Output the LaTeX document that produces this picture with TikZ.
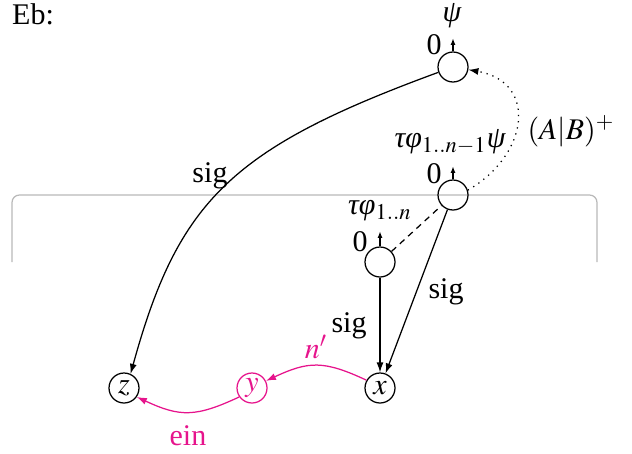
\documentclass[tikz,border=0pt]{standalone}
\usepackage{mathptmx}
\usepackage{fontspec}
\setmainfont{Liberation Serif}
\usetikzlibrary{arrows.meta}
\definecolor{mag}{RGB}{230,20,140}
\definecolor{boxgray}{RGB}{185,185,185}
\newcommand{\gk}[1]{\mbox{\itshape #1}}
\begin{document}
\begin{tikzpicture}[x=0.4pt,y=0.4pt,
  every node/.style={font=\fontsize{12}{14}\selectfont},
  st/.style={circle,draw,minimum size=12pt,inner sep=0pt,line width=0.5pt},
  lbl/.style={inner sep=0pt},
  arr/.style={-{Latex[length=4pt,width=2.8pt]},line width=0.5pt},
  uparr/.style={-{Latex[length=2.6pt,width=2pt]},line width=0.5pt},
  magarr/.style={-{Latex[length=4pt,width=2.8pt]},draw=mag,line width=0.5pt}]
\useasboundingbox (0,0) rectangle (632,-453);
% gray box
\draw[boxgray,line width=0.5pt,rounded corners=3pt] (12,-262) -- (12,-195) -- (597,-195) -- (597,-262);
% states
\node[st] (top) at (453,-67) {};
\node[st] (mid) at (453,-195) {};
\node[st] (low) at (380,-262) {};
\node[st] (X) at (380,-388) {$x$};
\node[st,draw=mag,text=mag] (Y) at (252,-388) {$y$};
\node[st] (Z) at (124,-388) {$z$};
% labels
\node[lbl] (eb) at (33,-14) {Eb:};
\node[lbl] (psi) at (452,-16) {\gk{ψ}};
\node[lbl] (z1) at (434,-45) {0};
\node[lbl] (tp1) at (450,-142) {\gk{τφ}$_{1..n-1}$\gk{ψ}};
\node[lbl] (z2) at (434,-174) {0};
\node[lbl] (tp2) at (380,-211) {\gk{τφ}$_{1..n}$};
\node[lbl] (z3) at (360,-242) {0};
\node[lbl] (ab) at (571,-131) {$(A|B)^{+}$};
\node[lbl] (s1) at (210,-176) {sig};
\node[lbl] (s2) at (446,-292) {sig};
\node[lbl] (s3) at (349,-326) {sig};
\node[lbl,text=mag] (np) at (316,-347) {$n'$};
\node[lbl,text=mag] (ein) at (188,-436) {ein};
% small up arrows
\draw[uparr] (top.north) -- +(0,13);
\draw[uparr] (mid.north) -- +(0,13);
\draw[uparr] (low.north) -- +(0,15);
% edges
\draw[arr] (top.200) .. controls +(-206.6,-75.7) and +(47.7,173.5) .. (Z.65);
\draw[arr,dotted] (mid.18) to[out=30,in=-10,looseness=1.5] (top.-10);
\draw[line width=0.5pt,dash pattern=on 2.5pt off 2pt] (low) -- (mid);
\draw[arr] (mid) -- (X);
\draw[arr] (low) -- (X);
\draw[magarr] (X.150) to[out=155,in=25,looseness=1.2] (Y.27);
\draw[magarr] (Y.215) to[out=205,in=-25,looseness=1.2] (Z.-35);
\end{tikzpicture}
\end{document}
